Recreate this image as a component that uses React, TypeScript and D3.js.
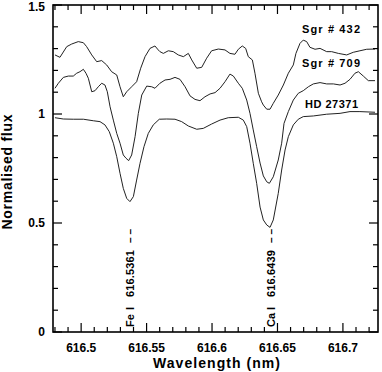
import React from "react";
import * as d3 from "d3";

// ---- Data (wavelength in nm, normalised flux) ----
const sgr432Wave = [616.48, 616.4838, 616.489, 616.4928, 616.4978, 616.5017, 616.5042, 616.5081, 616.5119, 616.5157, 616.5195, 616.5233, 616.5272, 616.5297, 616.5322, 616.5348, 616.5386, 616.5424, 616.5455, 616.5488, 616.5526, 616.5564, 616.5589, 616.5602, 616.5628, 616.5666, 616.5704, 616.5742, 616.5781, 616.5819, 616.5845, 616.5883, 616.5921, 616.5959, 616.5997, 616.6048, 616.6099, 616.6137, 616.6175, 616.6201, 616.6231, 616.6257, 616.6277, 616.6308, 616.6328, 616.6354, 616.6379, 616.6392, 616.6418, 616.6443, 616.6468, 616.6506, 616.6545, 616.6583, 616.6621, 616.6641, 616.6672, 616.6697, 616.6723, 616.6748, 616.6787, 616.6825, 616.6876, 616.6914, 616.6965, 616.7029, 616.7079, 616.713, 616.7182, 616.7245];
const sgr432Flux = [1.271, 1.26, 1.309, 1.321, 1.332, 1.327, 1.309, 1.271, 1.24, 1.245, 1.225, 1.194, 1.179, 1.125, 1.079, 1.102, 1.125, 1.148, 1.21, 1.263, 1.301, 1.312, 1.294, 1.286, 1.278, 1.29, 1.286, 1.271, 1.263, 1.278, 1.248, 1.21, 1.214, 1.256, 1.29, 1.298, 1.294, 1.278, 1.274, 1.297, 1.312, 1.301, 1.263, 1.248, 1.187, 1.095, 1.056, 1.041, 1.022, 1.022, 1.049, 1.087, 1.133, 1.187, 1.225, 1.278, 1.324, 1.339, 1.332, 1.306, 1.297, 1.301, 1.286, 1.286, 1.278, 1.271, 1.283, 1.29, 1.297, 1.298];

const sgr709Wave = [616.48, 616.4826, 616.4864, 616.4902, 616.494, 616.4966, 616.4991, 616.5017, 616.5037, 616.5055, 616.5081, 616.5106, 616.5131, 616.5157, 616.5182, 616.52, 616.5221, 616.5246, 616.5272, 616.5297, 616.5322, 616.5343, 616.5363, 616.5386, 616.5412, 616.5437, 616.5463, 616.5501, 616.5539, 616.5564, 616.5602, 616.5641, 616.5679, 616.5717, 616.5755, 616.5794, 616.5832, 616.587, 616.5908, 616.5946, 616.5985, 616.6023, 616.6061, 616.6099, 616.6137, 616.6163, 616.6201, 616.6231, 616.6265, 616.629, 616.6315, 616.6341, 616.6367, 616.6392, 616.6418, 616.6438, 616.6468, 616.6506, 616.6532, 616.655, 616.6583, 616.6621, 616.6659, 616.6697, 616.6736, 616.6774, 616.6825, 616.6876, 616.6927, 616.6978, 616.7016, 616.7054, 616.7092, 616.7118, 616.7156, 616.7194, 616.7245];
const sgr709Flux = [1.118, 1.141, 1.168, 1.174, 1.174, 1.187, 1.194, 1.205, 1.187, 1.164, 1.102, 1.107, 1.125, 1.141, 1.133, 1.102, 1.033, 0.972, 0.911, 0.866, 0.812, 0.797, 0.786, 0.812, 0.896, 1.003, 1.087, 1.128, 1.125, 1.118, 1.141, 1.156, 1.159, 1.168, 1.159, 1.125, 1.083, 1.067, 1.061, 1.079, 1.092, 1.098, 1.118, 1.148, 1.183, 1.174, 1.141, 1.118, 1.064, 1.003, 0.927, 0.85, 0.775, 0.716, 0.689, 0.682, 0.712, 0.789, 0.866, 0.957, 1.011, 1.064, 1.095, 1.107, 1.125, 1.138, 1.144, 1.138, 1.138, 1.133, 1.141, 1.159, 1.187, 1.194, 1.174, 1.153, 1.153];

const hdWave = [616.48, 616.4864, 616.494, 616.5017, 616.5093, 616.5144, 616.5182, 616.5215, 616.5246, 616.5272, 616.5297, 616.5322, 616.5348, 616.5373, 616.5399, 616.5424, 616.545, 616.548, 616.5513, 616.5551, 616.5597, 616.5654, 616.5717, 616.5768, 616.5819, 616.5883, 616.5933, 616.5997, 616.6061, 616.6124, 616.6201, 616.6239, 616.6265, 616.629, 616.6315, 616.6341, 616.6367, 616.6392, 616.6418, 616.6443, 616.6468, 616.6506, 616.6532, 616.6558, 616.6583, 616.6621, 616.6659, 616.6697, 616.6774, 616.6876, 616.6978, 616.7054, 616.713, 616.7245];
const hdFlux = [0.983, 0.977, 0.976, 0.976, 0.969, 0.965, 0.95, 0.919, 0.866, 0.804, 0.728, 0.659, 0.613, 0.598, 0.621, 0.697, 0.774, 0.85, 0.911, 0.95, 0.976, 0.977, 0.976, 0.965, 0.945, 0.93, 0.934, 0.954, 0.972, 0.983, 0.985, 0.972, 0.942, 0.866, 0.774, 0.682, 0.573, 0.514, 0.491, 0.48, 0.514, 0.636, 0.743, 0.835, 0.896, 0.95, 0.976, 0.988, 0.991, 0.999, 1.003, 1.011, 1.011, 1.008];

const seriesNames = ["Sgr # 432", "Sgr # 709", "HD 27371"];
const lineIds = ["Fe", "Ca"];
const lineWaves = [616.5361, 616.6439];
const lineWaveLabels = ["616.5361", "616.6439"];

const xMajorTicks = [616.5, 616.55, 616.6, 616.65, 616.7];
const xTickLabels = ["616.5", "616.55", "616.6", "616.65", "616.7"];
const yMajorTicks = [0, 0.5, 1, 1.5];
const yTickLabels = ["0", "0.5", "1", "1.5"];

const W = 382, H = 372;
const L = 53, R = 378, T = 5, B = 332;
const FONT = "'Liberation Sans', Arial, Helvetica, sans-serif";

export default function App() {
  const x = d3.scaleLinear().domain([616.4785, 616.7268]).range([L, R]);
  const y = d3.scaleLinear().domain([0, 1.5]).range([B, T]);
  const line = d3.line<[number, number]>().x((d) => x(d[0])).y((d) => y(d[1]));

  const series = [
    { w: sgr432Wave, f: sgr432Flux },
    { w: sgr709Wave, f: sgr709Flux },
    { w: hdWave, f: hdFlux },
  ];

  const xMinor = d3.range(616.48, 616.7265, 0.01).filter(
    (v) => !xMajorTicks.some((m) => Math.abs(m - v) < 1e-6)
  );
  const yMinor = d3.range(0.1, 1.45, 0.1).filter(
    (v) => !yMajorTicks.some((m) => Math.abs(m - v) < 1e-6)
  );
  const MAJ = 9, MIN = 5;

  const labelPos = [
    { x: 302, y: 33, len: 58 },
    { x: 302, y: 67, len: 58 },
    { x: 305, y: 108, len: 53 },
  ];

  return (
    <svg width={W} height={H} style={{ position: "absolute", left: 0, top: 0, background: "#fff" }}>
      <rect x={0} y={0} width={W} height={H} fill="#fff" />
      {/* spectra */}
      {series.map((s, i) => (
        <path
          key={i}
          d={line(s.w.map((w, j) => [w, s.f[j]] as [number, number])) || ""}
          fill="none"
          stroke="#222"
          strokeWidth={1}
        />
      ))}
      {/* ticks */}
      <g stroke="#000" strokeWidth={1.2}>
        {xMajorTicks.map((v, i) => (
          <g key={"xM" + i}>
            <line x1={x(v)} x2={x(v)} y1={B} y2={B - MAJ} />
            <line x1={x(v)} x2={x(v)} y1={T} y2={T + MAJ} />
          </g>
        ))}
        {xMinor.map((v, i) => (
          <g key={"xm" + i}>
            <line x1={x(v)} x2={x(v)} y1={B} y2={B - MIN} />
            <line x1={x(v)} x2={x(v)} y1={T} y2={T + MIN} />
          </g>
        ))}
        {yMajorTicks.map((v, i) => (
          <g key={"yM" + i}>
            <line x1={L} x2={L + MAJ} y1={y(v)} y2={y(v)} />
            <line x1={R} x2={R - MAJ} y1={y(v)} y2={y(v)} />
          </g>
        ))}
        {yMinor.map((v, i) => (
          <g key={"ym" + i}>
            <line x1={L} x2={L + MIN} y1={y(v)} y2={y(v)} />
            <line x1={R} x2={R - MIN} y1={y(v)} y2={y(v)} />
          </g>
        ))}
      </g>
      {/* frame */}
      <rect x={L} y={T} width={R - L} height={B - T} fill="none" stroke="#000" strokeWidth={1.6} />
      {/* tick labels */}
      <g fontFamily={FONT} fontWeight="bold" fontSize={12} fill="#000">
        {xMajorTicks.map((v, i) => (
          <text key={"xl" + i} x={x(v)} y={351.7} textAnchor="middle">
            {xTickLabels[i]}
          </text>
        ))}
        {yMajorTicks.map((v, i) => (
          <text key={"yl" + i} x={45} y={Math.max(y(v) + 4.3, 11)} textAnchor="end">
            {yTickLabels[i]}
          </text>
        ))}
      </g>
      {/* axis titles */}
      <text x={(L + R) / 2 + 1} y={368.3} textAnchor="middle" fontFamily={FONT} fontWeight="bold" fontSize={14}
        textLength={127} lengthAdjust="spacing">
        Wavelength (nm)
      </text>
      <text transform={`translate(12,172) rotate(-90)`} textAnchor="middle" fontFamily={FONT} fontWeight="bold"
        fontSize={14} textLength={115} lengthAdjust="spacing">
        Normalised flux
      </text>
      {/* series labels */}
      <g fontFamily={FONT} fontWeight="bold" fontSize={11}>
        {seriesNames.map((n, i) => (
          <text key={"sl" + i} x={labelPos[i].x} y={labelPos[i].y} textLength={labelPos[i].len}
            lengthAdjust="spacing" style={{ whiteSpace: "pre" }}>
            {n}
          </text>
        ))}
      </g>
      {/* line identifications */}
      <g fontFamily={FONT} fontWeight="bold" fontSize={11}>
        {lineWaves.map((w, i) => (
          <g key={"li" + i} transform={`translate(${x(w) + 1.5},327) rotate(-90)`}>
            <text x={0} y={0} dominantBaseline="central">{lineIds[i]}</text>
            <text x={17} y={0} dominantBaseline="central">I</text>
            <text x={30} y={0} dominantBaseline="central" textLength={47} lengthAdjust="spacing">
              {lineWaveLabels[i]}
            </text>
            <text x={84} y={0} dominantBaseline="central" textLength={14} lengthAdjust="spacingAndGlyphs">
              {"\u2013 \u2013"}
            </text>
          </g>
        ))}
      </g>
    </svg>
  );
}
